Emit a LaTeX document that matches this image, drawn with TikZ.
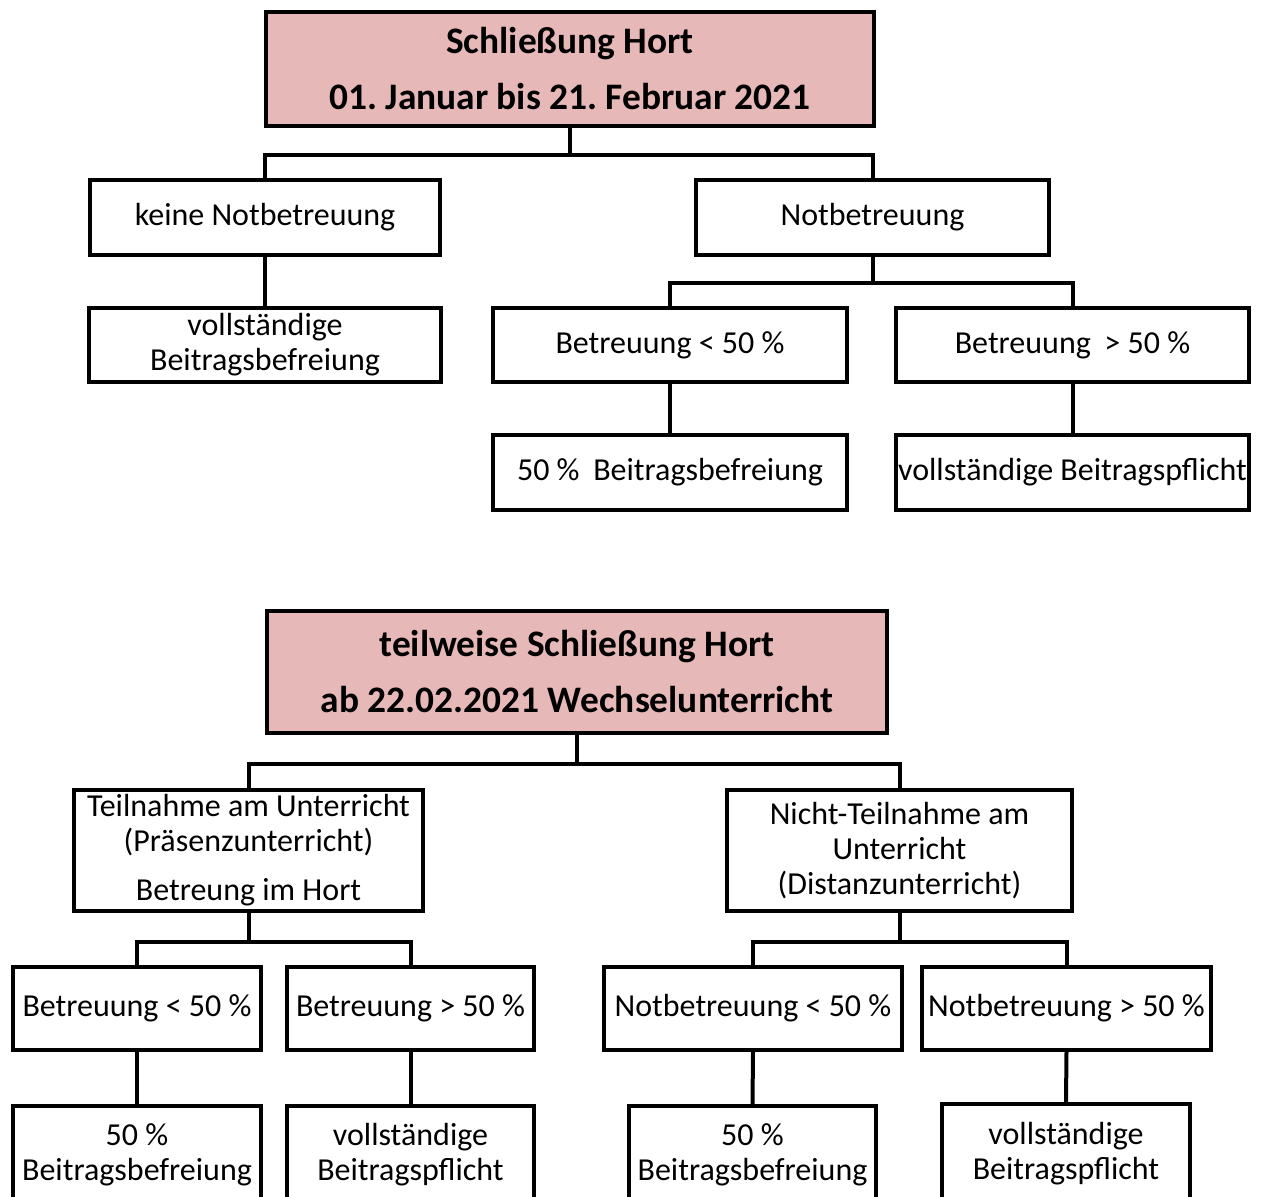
\documentclass[tikz,border=0pt]{standalone}
\usepackage{fontspec}
\setmainfont{Carlito}
\frenchspacing
\definecolor{titlered}{HTML}{E6B8B7}
\newcommand{\nsz}{\fontsize{32}{35}\selectfont}
\newcommand{\tsz}{\fontsize{37.4}{56}\selectfont\bfseries}
\begin{document}
\begin{tikzpicture}[x=1pt,y=-1pt,
  box/.style={draw, line width=4pt, fill=white, align=center, inner sep=0pt, font=\nsz},
  titlebox/.style={box, fill=titlered, font=\tsz},
  conn/.style={line width=4pt}]
\useasboundingbox (0,0) rectangle (1267,1197);
\clip (0,0) rectangle (1267,1197);
\fill[white] (0,0) rectangle (1267,1197);
% top tree
\node[titlebox, minimum width=608, minimum height=114] (t1) at (570,69) {Schließung Hort\\01. Januar bis 21. Februar 2021};
\node[box, minimum width=350, minimum height=75] (a1) at (265,217.5) {keine Notbetreuung};
\node[box, minimum width=353, minimum height=75] (b1) at (872.5,217.5) {Notbetreuung};
\node[box, minimum width=352, minimum height=74] (a2) at (265,345) {vollständige\\Beitragsbefreiung};
\node[box, minimum width=354, minimum height=74] (c1) at (670,345) {Betreuung < 50 \%};
\node[box, minimum width=353, minimum height=74] (d1) at (1072.5,345) {Betreuung\hspace{0.2em} > 50 \%};
\node[box, minimum width=354, minimum height=75] (c2) at (670,472.5) {50 \%\hspace{0.2em} Beitragsbefreiung};
\node[box, minimum width=353, minimum height=75] (d2) at (1072.5,472.5) {vollständige Beitragspflicht};
\draw[conn] (t1.south) -- ++(0,27) -| (a1.north);
\draw[conn] (t1.south) -- ++(0,27) -| (b1.north);
\draw[conn] (a1.south) -- (a2.north);
\draw[conn] (b1.south) -- ++(0,26) -| (c1.north);
\draw[conn] (b1.south) -- ++(0,26) -| (d1.north);
\draw[conn] (c1.south) -- (c2.north);
\draw[conn] (d1.south) -- (d2.north);
% bottom tree
\node[titlebox, minimum width=620, minimum height=122] (t2) at (577,672) {teilweise Schließung Hort\\ab 22.02.2021 Wechselunterricht};
\node[box, minimum width=349, minimum height=121] (e1) at (248.5,850.5) {Teilnahme am Unterricht\\(Präsenzunterricht)\\[14pt]Betreung im Hort};
\node[box, minimum width=345, minimum height=121] (f1) at (899.5,850.5) {Nicht-Teilnahme am\\Unterricht\\(Distanzunterricht)};
\node[box, minimum width=248, minimum height=83] (g1) at (137,1008.5) {Betreuung < 50 \%};
\node[box, minimum width=247, minimum height=83] (h1) at (410.5,1008.5) {Betreuung > 50 \%};
\node[box, minimum width=298, minimum height=83] (i1) at (753,1008.5) {Notbetreuung < 50 \%};
\node[box, minimum width=289, minimum height=83] (j1) at (1066.5,1008.5) {Notbetreuung > 50 \%};
\node[box, minimum width=248, minimum height=97] (g2) at (137,1154.5) {50 \%\\Beitragsbefreiung};
\node[box, minimum width=247, minimum height=97] (h2) at (410.5,1154.5) {vollständige\\Beitragspflicht};
\node[box, minimum width=247, minimum height=97] (i2) at (752.5,1154.5) {50 \%\\Beitragsbefreiung};
\node[box, minimum width=248, minimum height=99] (j2) at (1066,1153.5) {vollständige\\Beitragspflicht};
\draw[conn] (t2.south) -- ++(0,29) -| (e1.north);
\draw[conn] (t2.south) -- ++(0,29) -| (f1.north);
\draw[conn] (e1.south) -- ++(0,29) -| (g1.north);
\draw[conn] (e1.south) -- ++(0,29) -| (h1.north);
\draw[conn] (f1.south) -- ++(0,29) -| (i1.north);
\draw[conn] (f1.south) -- ++(0,29) -| (j1.north);
\draw[conn] (g1.south) -- (g2.north);
\draw[conn] (h1.south) -- (h2.north);
\draw[conn] (i1.south) -- (i2.north);
\draw[conn] (j1.south) -- (j2.north);
\end{tikzpicture}
\end{document}
